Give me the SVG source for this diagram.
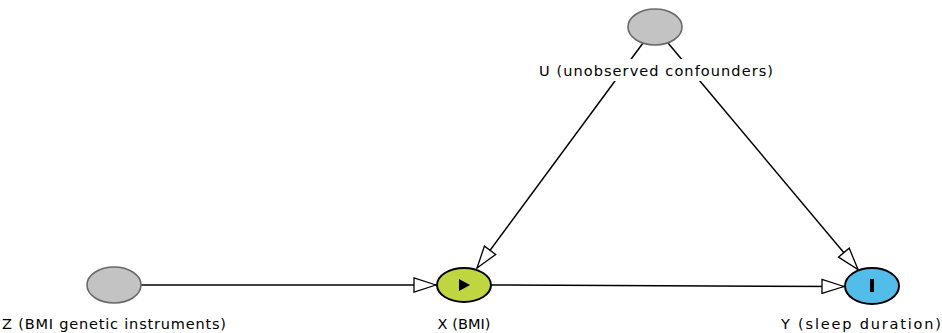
<svg xmlns="http://www.w3.org/2000/svg" width="942" height="333" viewBox="0 0 942 333">
<defs>
<style>
.edge{stroke:#000;stroke-width:1.5;fill:none;marker-end:url(#arr)}
.lbl{font-family:"DejaVu Sans","Liberation Sans",sans-serif;font-size:14.5px;fill:#000;text-anchor:middle}
.latent{fill:#c3c3c3;stroke:#6a6a6a;stroke-width:1.6}
.exp{fill:#bfd641;stroke:#000;stroke-width:2}
.out{fill:#52bde8;stroke:#000;stroke-width:2}
</style>
<marker id="arr" viewBox="-23 -8 24 16" refX="0" refY="0" markerWidth="24" markerHeight="16" markerUnits="userSpaceOnUse" orient="auto">
<path d="M0,0 L-22,-7 L-22,7 Z" fill="#fff" stroke="#000" stroke-width="1.3" stroke-linejoin="miter"/>
</marker>
</defs>
<rect width="942" height="333" fill="#fff"/>
<g id="connectors">
<line class="edge" x1="141" y1="285" x2="436" y2="285"/>
<line class="edge" x1="491" y1="285" x2="844" y2="286.5"/>
<line class="edge" x1="643" y1="43" x2="477" y2="268"/>
<line class="edge" x1="668" y1="43" x2="858" y2="269.5"/>
</g>
<g id="node-U">
<rect x="535" y="59" width="244" height="22" fill="#fff"/>
<ellipse class="latent" cx="655" cy="27" rx="27" ry="18"/>
<text class="lbl" x="656" y="76" textLength="234" lengthAdjust="spacing">U (unobserved confounders)</text>
</g>
<g id="node-Z">
<ellipse class="latent" cx="114" cy="285" rx="27" ry="18"/>
<text class="lbl" x="114" y="329" textLength="224" lengthAdjust="spacing">Z (BMI genetic instruments)</text>
</g>
<g id="node-X">
<ellipse class="exp" cx="464" cy="285" rx="27" ry="17"/>
<path d="M459,279 L470,285 L459,291 Z" fill="#000"/>
<text class="lbl" x="464" y="329" textLength="53" lengthAdjust="spacing">X (BMI)</text>
</g>
<g id="node-Y">
<ellipse class="out" cx="872" cy="286" rx="27" ry="18"/>
<rect x="870" y="279" width="4" height="13" fill="#000"/>
<text class="lbl" x="861" y="329" textLength="160" lengthAdjust="spacing">Y (sleep duration)</text>
</g>
</svg>
